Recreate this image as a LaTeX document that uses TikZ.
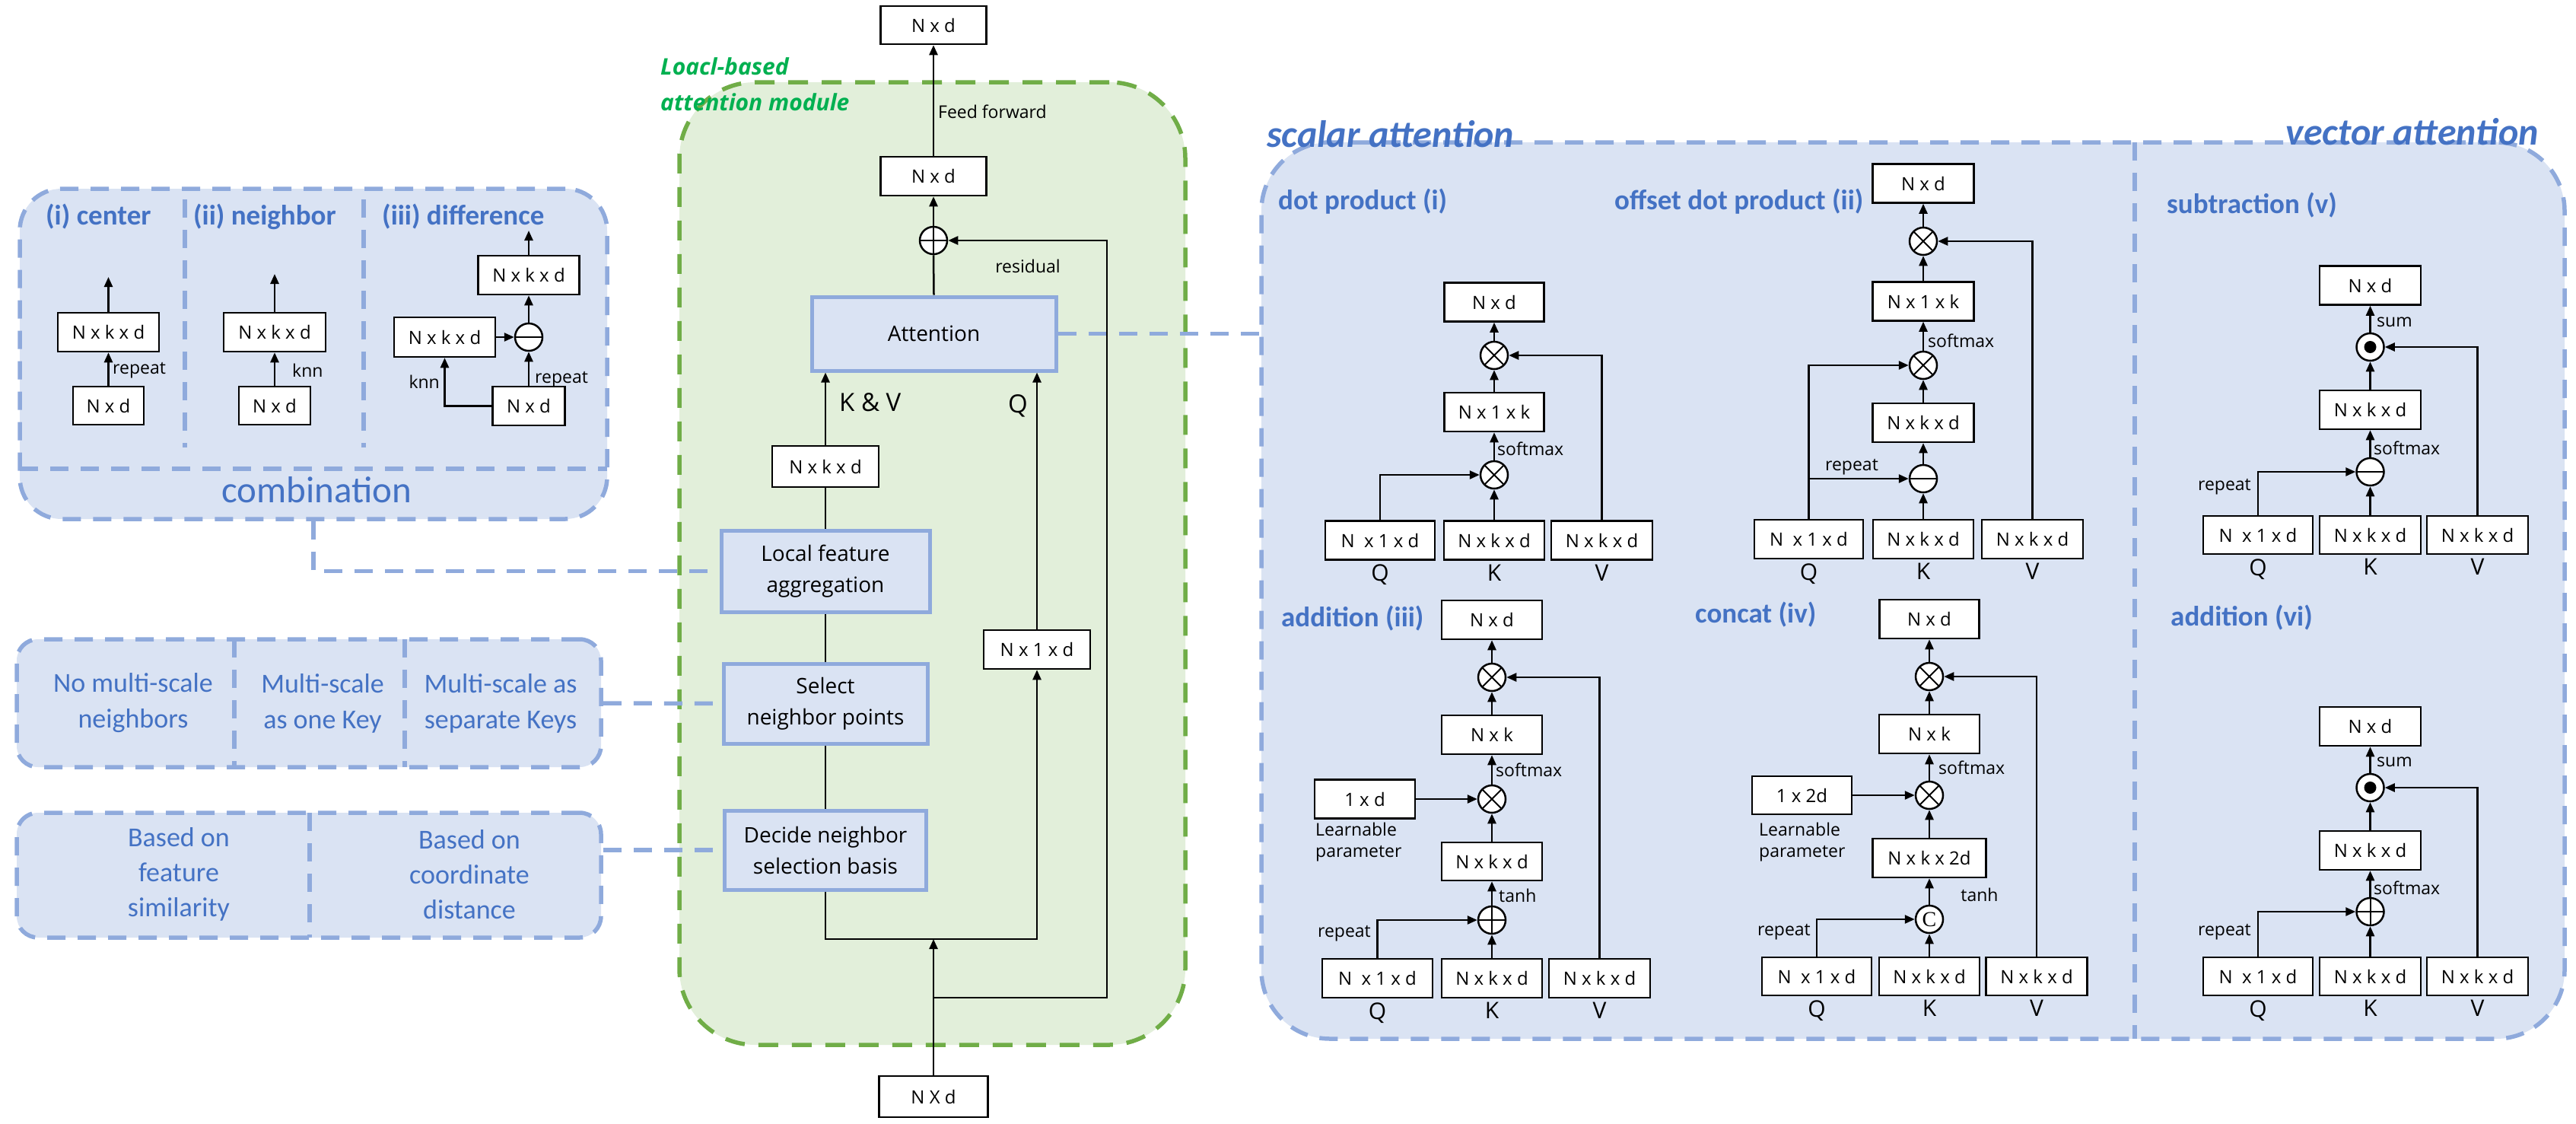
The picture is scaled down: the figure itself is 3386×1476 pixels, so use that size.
\documentclass[tikz,border=0pt]{standalone}
\usepackage{fontspec}
\setmainfont{Open Sans}
\newfontfamily\calfont{Carlito}
\newfontfamily\seriffnt{Liberation Serif}
\usetikzlibrary{arrows.meta,positioning}
\definecolor{bstroke}{HTML}{8FAADC}
\definecolor{bfill}{HTML}{DAE3F3}
\definecolor{btext}{HTML}{4472C4}
\definecolor{gstroke}{HTML}{70AD47}
\definecolor{gfill}{HTML}{E2EFDA}
\definecolor{gtext}{HTML}{00B050}
\newcommand\fsz[2]{\fontsize{#1}{#2}\selectfont}
\tikzset{
  bdash/.style={draw=bstroke, line width=5.5pt, dash pattern=on 24pt off 16pt},
  panel/.style={bdash, fill=bfill, rectangle, inner sep=0pt},
  bx/.style={draw=black, line width=2.5pt, fill=white, inner sep=0pt, minimum height=51pt, minimum width=132pt, font=\fsz{24}{29}},
  bbx/.style={draw=bstroke, line width=5pt, fill=bfill, inner sep=0pt, align=center, font=\fsz{28}{41}},
  opc/.style={circle, draw=black, line width=2.5pt, fill=white, minimum size=36pt, inner sep=0pt},
  otimes/.style={opc, path picture={\draw[black, line width=2pt] (path picture bounding box.north west) -- (path picture bounding box.south east) (path picture bounding box.north east) -- (path picture bounding box.south west);}},
  oplus/.style={opc, path picture={\draw[black, line width=2pt] (path picture bounding box.north) -- (path picture bounding box.south) (path picture bounding box.west) -- (path picture bounding box.east);}},
  ominus/.style={opc, path picture={\draw[black, line width=2pt] (path picture bounding box.west) -- (path picture bounding box.east);}},
  odot/.style={opc, path picture={\fill[black] (path picture bounding box.center) circle (8pt);}},
  ccirc/.style={opc, font=\seriffnt\fsz{28}{30}},
  ar/.style={line width=2.5pt, -{Triangle[length=13pt,width=11pt]}},
  ln/.style={line width=2.5pt},
  lbl/.style={font=\fsz{23}{28}, inner sep=0pt},
  qkv/.style={font=\fsz{30}{36}, inner sep=0pt},
  ttl/.style={font=\calfont\bfseries\fsz{37}{44}, text=btext, inner sep=0pt},
  ptxt/.style={font=\calfont\fsz{36}{47}, text=btext, align=center, inner sep=0pt},
}
\begin{document}
\begin{tikzpicture}[x=1pt,y=-1pt]
\useasboundingbox (0,0) rectangle (3386,1476);
\fill[white] (0,0) rectangle (3386,1476);

% ---------------- combination panel ----------------
\node[panel, rounded corners=55pt, minimum width=772pt, minimum height=434pt] (comb) at (412,465) {};
\draw[bdash] (26,616) -- (798,616);
\draw[bdash] (243,262) -- (243,588);
\draw[bdash] (478,262) -- (478,588);
\node[ttl, anchor=base west] (t1) at (60,295) {(i) center};
\node[ttl, anchor=base west] (t2) at (254,295) {(ii) neighbor};
\node[ttl, anchor=base west] (t3) at (502,295) {(iii) difference};
\node[font=\calfont\fsz{49}{58}, text=btext, anchor=base, inner sep=0pt] (tcomb) at (416,660) {combination};

\node[bx, minimum width=133pt] (c1a) at (142.5,436.5) {N x k x d};
\node[bx, minimum width=93pt, minimum height=50pt] (c1b) at (142.5,533) {N x d};
\coordinate (c1t) at (142.5,364);
\draw[ar] (c1b.north) -- (c1a.south);
\draw[ar] (c1a.north) -- (c1t);
\node[lbl, anchor=west] (c1l) at (148,487) {repeat};

\node[bx, minimum width=134pt] (c2a) at (361,436.5) {N x k x d};
\node[bx, minimum width=94pt, minimum height=50pt] (c2b) at (361,533) {N x d};
\coordinate (c2t) at (361,360);
\draw[ar] (c2b.north) -- (c2a.south);
\draw[ar] (c2a.north) -- (c2t);
\node[lbl, anchor=west] (c2l) at (384,487) {knn};

\node[bx, minimum width=133pt] (c3a) at (695,361.5) {N x k x d};
\node[ominus] (c3m) at (695,443) {};
\node[bx, minimum width=133pt, minimum height=52pt] (c3l) at (584.5,443) {N x k x d};
\node[bx, minimum width=95pt] (c3b) at (695,533.5) {N x d};
\coordinate (c3t) at (695,303);
\draw[ar] (c3l.east) -- (c3m.west);
\draw[ar] (c3b.north) -- (c3m.south);
\draw[ar] (c3m.north) -- (c3a.south);
\draw[ar] (c3a.north) -- (c3t);
\draw[ar] (c3b.west) -| (c3l.south);
\node[lbl, anchor=base west] (c3r) at (703,503) {repeat};
\node[lbl, anchor=east] (c3k) at (578,502) {knn};

% ---------------- multi-scale panel ----------------
\node[panel, rounded corners=28pt, minimum width=768pt, minimum height=168pt] (ms) at (406,924) {};
\draw[bdash] (308,840) -- (308,1008);
\draw[bdash] (532,840) -- (532,1008);
\node[ptxt] (ms1) at (175,924) {No multi-scale\\neighbors};
\node[ptxt] (ms2) at (424,924) {Multi-scale\\as one Key};
\node[ptxt] (ms3) at (658,924) {Multi-scale as\\separate Keys};

% ---------------- basis panel ----------------
\node[panel, rounded corners=28pt, minimum width=768pt, minimum height=164pt] (bs) at (406,1150) {};
\draw[bdash] (407,1068) -- (407,1232);
\node[ptxt, font=\calfont\fsz{36}{46}] (bs1) at (235,1149) {Based on\\feature\\similarity};
\node[ptxt, font=\calfont\fsz{36}{46}] (bs2) at (617,1149) {Based on\\coordinate\\distance};

% ---------------- green module ----------------
\node[rectangle, draw=gstroke, line width=5.5pt, dash pattern=on 26pt off 18pt, fill=gfill, rounded corners=100pt, minimum width=665pt, minimum height=1265pt, inner sep=0pt] (gm) at (1225.5,740.5) {};
\node[font=\bfseries\itshape\fsz{30}{36}, text=gtext, anchor=base west, inner sep=0pt] (gt1) at (868,98) {Loacl-based};
\node[font=\bfseries\itshape\fsz{30}{36}, text=gtext, anchor=base west, inner sep=0pt] (gt2) at (868,145) {attention module};

% ---------------- scalar / vector panel ----------------
\node[panel, rounded corners=90pt, minimum width=1713pt, minimum height=1178pt] (sp) at (2514.5,776) {};
\draw[bdash] (2806,187) -- (2806,1365);
\node[font=\calfont\bfseries\itshape\fsz{50}{60}, text=btext, anchor=base west, inner sep=0pt] (tsc) at (1665,193) {scalar attention};
\node[font=\calfont\bfseries\itshape\fsz{50}{60}, text=btext, anchor=base east, inner sep=0pt] (tvc) at (3337,190) {vector attention};

% connectors from panels
\node[bbx, minimum width=321pt, minimum height=97pt] (att) at (1227.5,438.5) {Attention};
\node[bbx, minimum width=274pt, minimum height=107pt] (lfa) at (1085,750.5) {Local feature\\aggregation};
\node[bbx, minimum width=268pt, minimum height=105pt] (snp) at (1085,924.5) {Select\\neighbor points};
\node[bbx, minimum width=265pt, minimum height=104pt] (dns) at (1085,1117) {Decide neighbor\\selection basis};
\draw[bdash] (comb.south) |- (lfa.west);
\draw[bdash] (ms.east) -- (snp.west);
\draw[bdash] (dns.west -| bs.east) -- (dns.west);
\draw[bdash] (att.east) -- (att.east -| sp.west);

% ---------------- main column ----------------
\node[bx, minimum width=139pt, minimum height=50pt] (out) at (1227,33) {N x d};
\node[bx, minimum width=139pt] (ffb) at (1227,231.5) {N x d};
\node[oplus] (res) at (1227,316) {};
\node[bx, minimum width=140pt, minimum height=54pt] (kv) at (1085,613) {N x k x d};
\node[bx, minimum width=140pt] (q1) at (1363,853.5) {N x 1 x d};
\node[bx, minimum width=143pt, minimum height=54pt] (inp) at (1227,1441) {N X d};
\coordinate (jn) at (1227,1234);
\coordinate (jr) at (1227,1311);
\coordinate (rc) at (1455,1311);
\draw[ar] (ffb.north) -- (out.south);
\node[lbl, anchor=west] (ffl) at (1233,147) {Feed forward};
\draw[ar] (res.north) -- (ffb.south);
\draw[ln] (att.north) -- (res.south);
\draw[ar] (jr) -- (rc) |- (res.east);
\node[lbl, anchor=center] (resl) at (1351,350) {residual};
\draw[ar] (kv.north) -- (kv.north |- att.south);
\node[qkv, font=\fsz{33}{40}, anchor=west] (kvl) at (1103,529) {K \& V};
\draw[ar] (q1.north) -- (q1.north |- att.south);
\node[qkv, font=\fsz{33}{40}] (ql) at (1338,533) {Q};
\draw[ln] (kv.south) -- (lfa.north);
\draw[ln] (lfa.south) -- (snp.north);
\draw[ln] (snp.south) -- (dns.north);
\draw[ar] (dns.south) |- (jn) -| (q1.south);
\draw[ar] (inp.north) -- (jn);

% ---------------- dot product (i) ----------------
\node[ttl, anchor=base west] (ta) at (1680,275) {dot product (i)};
\node[bx, minimum width=131pt] (aO) at (1964,397) {N x d};
\node[otimes] (aM2) at (1964,467) {};
\node[bx, minimum width=131pt] (aS) at (1964,541.5) {N x 1 x k};
\node[otimes] (aM1) at (1964,624) {};
\node[bx, minimum width=144pt] (aQ) at (1814,710) {N~ x 1 x d};
\node[bx] (aK) at (1964,710) {N x k x d};
\node[bx, minimum width=133pt] (aV) at (2105.5,710) {N x k x d};
\node[qkv, below=5pt of aQ] (aQl) {Q};
\node[qkv, below=5pt of aK] (aKl) {K};
\node[qkv, below=5pt of aV] (aVl) {V};
\draw[ar] (aK.north) -- (aM1.south);
\draw[ar] (aQ.north) |- (aM1.west);
\draw[ar] (aM1.north) -- (aS.south);
\node[lbl, anchor=west] (aSl) at (1968,590) {softmax};
\draw[ar] (aS.north) -- (aM2.south);
\draw[ar] (aV.north) |- (aM2.east);
\draw[ar] (aM2.north) -- (aO.south);

% ---------------- offset dot product (ii) ----------------
\node[ttl, anchor=base west] (tb) at (2122,275) {offset dot product (ii)};
\node[bx, minimum width=133pt] (bO) at (2528,241) {N x d};
\node[otimes] (bM2) at (2528,317) {};
\node[bx, minimum width=133pt] (bS) at (2528,396) {N x 1 x k};
\node[otimes] (bM1) at (2528,480) {};
\node[bx, minimum width=133pt] (bD) at (2528,555.5) {N x k x d};
\node[ominus] (bSub) at (2528,629) {};
\node[bx, minimum width=143pt] (bQ) at (2377.5,708.5) {N~ x 1 x d};
\node[bx] (bK) at (2528,708.5) {N x k x d};
\node[bx, minimum width=133pt] (bV) at (2671.5,708.5) {N x k x d};
\node[qkv, below=5pt of bQ] (bQl) {Q};
\node[qkv, below=5pt of bK] (bKl) {K};
\node[qkv, below=5pt of bV] (bVl) {V};
\draw[ar] (bK.north) -- (bSub.south);
\draw[ar] (bQ.north) |- (bM1.west);
\draw[ar] (bQ.north |- bSub.west) -- (bSub.west);
\node[lbl, anchor=south] (bRl) at (2434,624) {repeat};
\draw[ar] (bSub.north) -- (bD.south);
\draw[ar] (bD.north) -- (bM1.south);
\draw[ar] (bM1.north) -- (bS.south);
\node[lbl, anchor=west] (bSl) at (2534,448) {softmax};
\draw[ar] (bS.north) -- (bM2.south);
\draw[ar] (bV.north) |- (bM2.east);
\draw[ar] (bM2.north) -- (bO.south);

% ---------------- addition (iii) ----------------
\node[ttl, anchor=base west] (tc) at (1684,823) {addition (iii)};
\node[bx] (cO) at (1961,814.5) {N x d};
\node[otimes] (cM2) at (1961,890) {};
\node[bx] (cS) at (1961,965.5) {N x k};
\node[otimes] (cM1) at (1961,1050) {};
\node[bx] (cP) at (1794,1050) {1 x d};
\node[lbl, align=left, anchor=west] (cPl) at (1729,1107) {Learnable\\parameter};
\node[bx, minimum height=50pt] (cH) at (1961,1132) {N x k x d};
\node[oplus] (cA) at (1961,1209) {};
\node[bx, minimum width=145pt] (cQ) at (1810.5,1285.5) {N~ x 1 x d};
\node[bx] (cK) at (1961,1285.5) {N x k x d};
\node[bx, minimum width=133pt] (cV) at (2102.5,1285.5) {N x k x d};
\node[qkv, below=5pt of cQ] (cQl) {Q};
\node[qkv, below=5pt of cK] (cKl) {K};
\node[qkv, below=5pt of cV] (cVl) {V};
\draw[ar] (cK.north) -- (cA.south);
\draw[ar] (cQ.north) |- (cA.west);
\node[lbl, anchor=east] (cRl) at (1802,1227) {repeat};
\draw[ar] (cA.north) -- (cH.south);
\node[lbl, anchor=west] (cTl) at (1970,1177) {tanh};
\draw[ar] (cH.north) -- (cM1.south);
\draw[ar] (cP.east) -- (cM1.west);
\draw[ar] (cM1.north) -- (cS.south);
\node[lbl, anchor=west] (cSl) at (1966,1012) {softmax};
\draw[ar] (cS.north) -- (cM2.south);
\draw[ar] (cV.north) |- (cM2.east);
\draw[ar] (cM2.north) -- (cO.south);

% ---------------- concat (iv) ----------------
\node[ttl, anchor=base west] (td) at (2228,818) {concat (iv)};
\node[bx, minimum width=131pt] (dO) at (2536,813.5) {N x d};
\node[otimes] (dM2) at (2536,889) {};
\node[bx] (dS) at (2536,964.5) {N x k};
\node[otimes] (dM1) at (2536,1045) {};
\node[bx, minimum width=131pt, minimum height=50pt] (dP) at (2368.5,1045) {1 x 2d};
\node[lbl, align=left, anchor=west] (dPl) at (2312,1107) {Learnable\\parameter};
\node[bx, minimum width=149pt] (dH) at (2536,1127.5) {N x k x 2d};
\node[ccirc] (dC) at (2536,1208) {C};
\node[bx, minimum width=144pt, minimum height=50pt] (dQ) at (2388,1283) {N~ x 1 x d};
\node[bx, minimum height=50pt] (dK) at (2536,1283) {N x k x d};
\node[bx, minimum width=133pt, minimum height=50pt] (dV) at (2677,1283) {N x k x d};
\node[qkv, below=5pt of dQ] (dQl) {Q};
\node[qkv, below=5pt of dK] (dKl) {K};
\node[qkv, below=5pt of dV] (dVl) {V};
\draw[ar] (dK.north) -- (dC.south);
\draw[ar] (dQ.north) |- (dC.west);
\node[lbl, anchor=east] (dRl) at (2380,1225) {repeat};
\draw[ar] (dC.north) -- (dH.south);
\node[lbl] (dTl) at (2602,1176) {tanh};
\draw[ar] (dH.north) -- (dM1.south);
\draw[ar] (dP.east) -- (dM1.west);
\draw[ar] (dM1.north) -- (dS.south);
\node[lbl, anchor=west] (dSl) at (2548,1009) {softmax};
\draw[ar] (dS.north) -- (dM2.south);
\draw[ar] (dV.north) |- (dM2.east);
\draw[ar] (dM2.north) -- (dO.south);

% ---------------- subtraction (v) ----------------
\node[ttl, anchor=base west] (te) at (2848,280) {subtraction (v)};
\node[bx, minimum width=133pt] (eO) at (3115.5,375) {N x d};
\node[odot] (eM) at (3115.5,456) {};
\node[bx, minimum width=133pt] (eS) at (3115.5,538.5) {N x k x d};
\node[ominus] (eSub) at (3115.5,620) {};
\node[bx, minimum width=144pt, minimum height=50pt] (eQ) at (2968,703) {N~ x 1 x d};
\node[bx, minimum width=133pt, minimum height=50pt] (eK) at (3115.5,703) {N x k x d};
\node[bx, minimum width=133pt, minimum height=50pt] (eV) at (3256.5,703) {N x k x d};
\node[qkv, below=5pt of eQ] (eQl) {Q};
\node[qkv, below=5pt of eK] (eKl) {K};
\node[qkv, below=5pt of eV] (eVl) {V};
\draw[ar] (eK.north) -- (eSub.south);
\draw[ar] (eQ.north) |- (eSub.west);
\node[lbl, anchor=east] (eRl) at (2959,640) {repeat};
\draw[ar] (eSub.north) -- (eS.south);
\node[lbl, anchor=west] (eSl) at (3120,589) {softmax};
\draw[ar] (eS.north) -- (eM.south);
\draw[ar] (eV.north) |- (eM.east);
\draw[ar] (eM.north) -- (eO.south);
\node[lbl, anchor=west] (eUl) at (3124,423) {sum};

% ---------------- addition (vi) ----------------
\node[ttl, anchor=base west] (tf) at (2853,822) {addition (vi)};
\node[bx, minimum width=133pt] (fO) at (3115.5,954.5) {N x d};
\node[odot] (fM) at (3115.5,1035) {};
\node[bx, minimum width=133pt] (fS) at (3115.5,1117.5) {N x k x d};
\node[oplus] (fA) at (3115.5,1198) {};
\node[bx, minimum width=144pt, minimum height=50pt] (fQ) at (2968,1283) {N~ x 1 x d};
\node[bx, minimum width=133pt, minimum height=50pt] (fK) at (3115.5,1283) {N x k x d};
\node[bx, minimum width=133pt, minimum height=50pt] (fV) at (3256.5,1283) {N x k x d};
\node[qkv, below=5pt of fQ] (fQl) {Q};
\node[qkv, below=5pt of fK] (fKl) {K};
\node[qkv, below=5pt of fV] (fVl) {V};
\draw[ar] (fK.north) -- (fA.south);
\draw[ar] (fQ.north) |- (fA.west);
\node[lbl, anchor=east] (fRl) at (2959,1225) {repeat};
\draw[ar] (fA.north) -- (fS.south);
\node[lbl, anchor=west] (fSl) at (3120,1167) {softmax};
\draw[ar] (fS.north) -- (fM.south);
\draw[ar] (fV.north) |- (fM.east);
\draw[ar] (fM.north) -- (fO.south);
\node[lbl, anchor=west] (fUl) at (3124,1001) {sum};
\end{tikzpicture}
\end{document}
